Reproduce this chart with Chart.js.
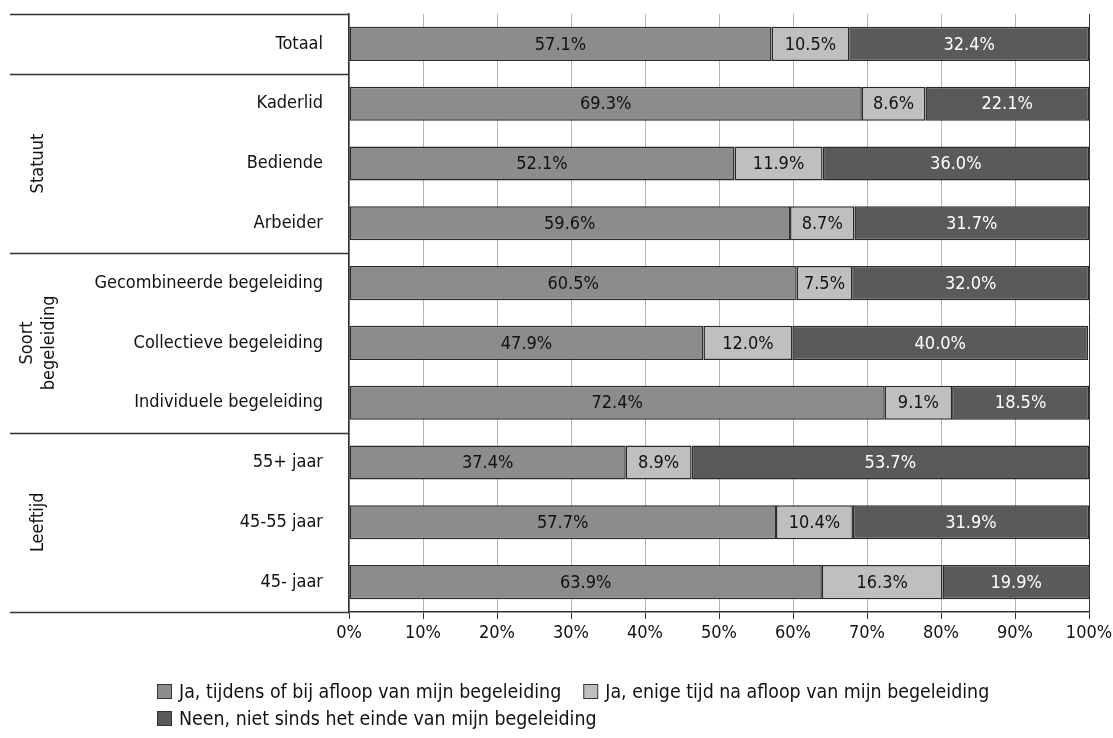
<!DOCTYPE html>
<html><head><meta charset="utf-8">
<script src="https://cdn.jsdelivr.net/npm/chart.js@4/dist/chart.umd.min.js"></script>
<style>html,body{margin:0;padding:0;background:#fff}#wrap{width:1113px;height:738px}</style>
</head><body><div id="wrap"><canvas id="c" width="1113" height="738"></canvas></div>
<script>
const categories = ["Totaal","Kaderlid","Bediende","Arbeider","Gecombineerde begeleiding","Collectieve begeleiding","Individuele begeleiding","55+ jaar","45-55 jaar","45- jaar"];
const seriesNames = ["Ja, tijdens of bij afloop van mijn begeleiding","Ja, enige tijd na afloop van mijn begeleiding","Neen, niet sinds het einde van mijn begeleiding"];
const jaTijdens = [57.1,69.3,52.1,59.6,60.5,47.9,72.4,37.4,57.7,63.9];
const jaNa = [10.5,8.6,11.9,8.7,7.5,12.0,9.1,8.9,10.4,16.3];
const neen = [32.4,22.1,36.0,31.7,32.0,40.0,18.5,53.7,31.9,19.9];
const groups = [{label:["Statuut"],from:1,to:3},{label:["Soort","begeleiding"],from:4,to:6},{label:["Leeftijd"],from:7,to:9}];
const xTicks = [0,10,20,30,40,50,60,70,80,90,100];

const FONT = "'DejaVu Sans Condensed','DejaVu Sans',sans-serif";
const FS = 18;
const LFS = 19.4;
const colors = ["#8c8c8c","#bfbfbf","#5a5a5a"];
const labelColors = ["#111","#111","#fff"];

const decor = {
  id:'decor',
  afterDatasetsDraw(chart){
    const ctx = chart.ctx;
    ctx.save();
    ctx.font = FS+"px " + FONT;
    ctx.textAlign='center'; ctx.textBaseline='middle';
    chart.data.datasets.forEach((ds,di)=>{
      const meta = chart.getDatasetMeta(di);
      meta.data.forEach((el,i)=>{
        const cx = (el.x + el.base)/2;
        ctx.fillStyle = labelColors[di];
        ctx.fillText(ds.data[i].toFixed(1)+'%', cx, el.y+1);
      });
    });
    ctx.restore();
  },
  afterDraw(chart){
    const ctx = chart.ctx, ys = chart.scales.y, ca = chart.chartArea;
    ctx.save();
    ctx.strokeStyle='#333'; ctx.lineWidth=1.5;
    const seps = [ca.top];
    [0,3,6].forEach(i=>seps.push((ys.getPixelForValue(i)+ys.getPixelForValue(i+1))/2));
    seps.push(ca.bottom);
    seps.forEach(y=>{ctx.beginPath();ctx.moveTo(10,Math.round(y)+0.5);ctx.lineTo(ca.left,Math.round(y)+0.5);ctx.stroke();});
    ctx.fillStyle='#111'; ctx.font=FS+"px "+FONT; ctx.textAlign='center'; ctx.textBaseline='middle';
    groups.forEach(g=>{
      const yc = (ys.getPixelForValue(g.from)+ys.getPixelForValue(g.to))/2;
      const n = g.label.length;
      g.label.forEach((t,k)=>{
        const x = 38 + (k-(n-1)/2)*22;
        ctx.save(); ctx.translate(x,yc); ctx.rotate(-Math.PI/2); ctx.fillText(t,0,0); ctx.restore();
      });
    });
    ctx.font=LFS+"px "+FONT; ctx.textAlign='left'; ctx.textBaseline='middle';
    const rows=[[0,1],[2]]; const rowY=[692,719];
    rows.forEach((r,ri)=>{
      let x=157;
      r.forEach(di=>{
        ctx.fillStyle=colors[di]; ctx.fillRect(x+0.5,rowY[ri]-7.5,14,14);
        ctx.strokeStyle='#333'; ctx.lineWidth=1; ctx.strokeRect(x+0.5,rowY[ri]-7.5,14,14);
        ctx.fillStyle='#111'; ctx.fillText(seriesNames[di], x+22, rowY[ri]+1);
        x += 22 + ctx.measureText(seriesNames[di]).width + 22;
      });
    });
    ctx.restore();
  }
};

new Chart(document.getElementById('c'),{
  type:'bar',
  data:{labels:categories,datasets:[
    {label:seriesNames[0],data:jaTijdens,backgroundColor:colors[0]},
    {label:seriesNames[1],data:jaNa,backgroundColor:colors[1]},
    {label:seriesNames[2],data:neen,backgroundColor:colors[2]}
  ].map(d=>Object.assign(d,{borderColor:'#2a2a2a',borderWidth:1.5,borderSkipped:false,barPercentage:0.57,categoryPercentage:1}))},
  options:{
    indexAxis:'y',responsive:false,animation:false,
    layout:{padding:{top:14,right:24,bottom:76,left:0}},
    plugins:{legend:{display:false},tooltip:{enabled:false}},
    scales:{
      x:{stacked:true,min:0,max:100,
        afterBuildTicks(s){s.ticks=xTicks.map(v=>({value:v}));},
        afterFit(s){s.height=50;s.paddingLeft=0;s.paddingRight=0;},
        ticks:{callback:v=>v+'%',color:'#111',font:{family:FONT,size:FS},padding:4,maxRotation:0},
        grid:{color:c=>c.tick&&c.tick.value===100?'#333':'#b5b5b5',lineWidth:1,tickLength:7,tickColor:'#333'},
        border:{color:'#333',width:1.5}},
      y:{stacked:true,
        afterFit(s){s.width=349;s.paddingTop=0;s.paddingBottom=0;},
        ticks:{color:'#111',font:{family:FONT,size:FS},padding:26},
        grid:{display:false,drawTicks:false},
        border:{color:'#333',width:1.5}}
    }
  },
  plugins:[decor]
});
</script></body></html>
